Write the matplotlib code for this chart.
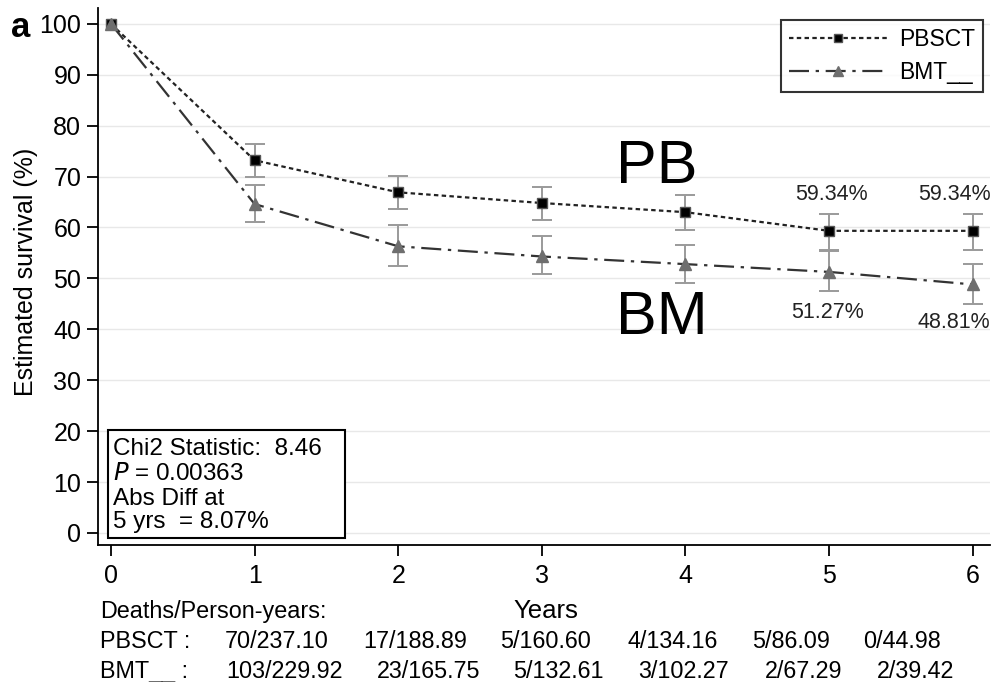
import matplotlib
matplotlib.use("Agg")
import matplotlib.pyplot as plt
from matplotlib.lines import Line2D
from matplotlib.patches import Rectangle

# --- data ---------------------------------------------------------------
years = [0, 1, 2, 3, 4, 5, 6]

pbsct_surv = [100.0, 73.2, 66.9, 64.8, 63.0, 59.34, 59.34]
pbsct_lo = [100.0, 70.0, 63.7, 61.5, 59.5, 55.6, 55.6]
pbsct_hi = [100.0, 76.4, 70.1, 67.9, 66.3, 62.6, 62.6]

bmt_surv = [100.0, 64.6, 56.3, 54.3, 52.8, 51.27, 48.81]
bmt_lo = [100.0, 61.0, 52.5, 50.8, 49.0, 47.6, 44.9]
bmt_hi = [100.0, 68.4, 60.4, 58.3, 56.6, 55.3, 52.8]

pbsct_deaths = ["70/237.10", "17/188.89", "5/160.60", "4/134.16", "5/86.09", "0/44.98"]
bmt_deaths = ["103/229.92", "23/165.75", "5/132.61", "3/102.27", "2/67.29", "2/39.42"]

y_ticks = list(range(0, 101, 10))

plt.rcParams["font.family"] = ["Liberation Sans", "DejaVu Sans"]

W, H = 996, 682
fig = plt.figure(figsize=(W / 100, H / 100), dpi=100)
ax = fig.add_axes([98 / W, 1 - 545 / H, (990 - 98) / W, (545 - 8) / H])


def fx(px):
    return px / W


def fy(py):
    return 1 - py / H


ax.set_xlim(-0.09, 6.12)
ax.set_ylim(-2.36, 103.1)

for v in y_ticks:
    ax.axhline(v, color="#e8e8e8", lw=1.0, zorder=0)

PB_LS = (0, (2.0, 1.5))
BM_LS = (0, (9, 3, 1.5, 3))

# confidence intervals
for surv, lo, hi in ((pbsct_surv, pbsct_lo, pbsct_hi), (bmt_surv, bmt_lo, bmt_hi)):
    ax.errorbar(years[1:], surv[1:],
                yerr=[[s - l for s, l in zip(surv[1:], lo[1:])],
                      [h - s for s, h in zip(surv[1:], hi[1:])]],
                fmt="none", ecolor="#9a9a9a", elinewidth=1.4, capsize=7, capthick=1.4, zorder=2)

# survival curves
ax.plot(years, pbsct_surv, color="#222222", lw=1.6, ls=PB_LS,
        marker="s", ms=7, mfc="black", mec="#555555", zorder=3)
ax.plot(years, bmt_surv, color="#333333", lw=1.6, ls=BM_LS,
        marker="^", ms=8, mfc="#6e6e6e", mec="#6e6e6e", zorder=3)

# value labels at 5 and 6 years
lab_kw = dict(fontsize=15.5, color="#222222", va="baseline", ha="center")
fig.text(fx(831), fy(200), f"{pbsct_surv[5]:.2f}%", **lab_kw)
fig.text(fx(954), fy(200), f"{pbsct_surv[6]:.2f}%", **lab_kw)
fig.text(fx(828), fy(318), f"{bmt_surv[5]:.2f}%", **lab_kw)
fig.text(fx(954), fy(328), f"{bmt_surv[6]:.2f}%", **lab_kw)

# group tags
fig.text(fx(616), fy(183), "PB", fontsize=44, ha="left", va="baseline", color="black")
fig.text(fx(616), fy(334), "BM", fontsize=44, ha="left", va="baseline", color="black")

# axes styling
ax.set_yticks(y_ticks)
ax.set_xticks(years)
ax.tick_params(axis="both", labelsize=18, length=8, width=1.3, color="black", direction="out")
ax.tick_params(axis="y", pad=4)
ax.tick_params(axis="x", pad=6)
for s in ("top", "right"):
    ax.spines[s].set_visible(False)
for s in ("left", "bottom"):
    ax.spines[s].set_linewidth(1.3)
fig.text(fx(26), fy(272), "Estimated survival (%)", fontsize=18, rotation=90,
         ha="center", va="center")

# legend
handles = [
    Line2D([], [], color="#222222", lw=1.6, ls=PB_LS, marker="s", ms=6,
           mfc="black", mec="#555555"),
    Line2D([], [], color="#333333", lw=1.6, ls=BM_LS, marker="^", ms=7,
           mfc="#6e6e6e", mec="#6e6e6e"),
]
leg = fig.legend(handles, ["PBSCT", "BMT__"], loc="upper right",
                 bbox_to_anchor=(fx(983), fy(20)), borderaxespad=0,
                 fontsize=16.5, frameon=True, fancybox=False, edgecolor="black",
                 handlelength=4.3, borderpad=0.35, labelspacing=0.45, handletextpad=0.5)
leg.get_frame().set_linewidth(1.5)

# statistics box
fig.patches.append(Rectangle((fx(108), fy(538)), fx(345) - fx(108), fy(430) - fy(538),
                             transform=fig.transFigure, fill=True, fc="white",
                             ec="black", lw=1.5, zorder=5))
stat_lines = ["Chi2 Statistic:  8.46", "$P$ = 0.00363", "Abs Diff at", "5 yrs  = 8.07%"]
for txt, base in zip(stat_lines, (455, 480, 505, 528)):
    fig.text(fx(113), fy(base), txt, fontsize=17.5, ha="left", va="baseline", zorder=6)

# panel letter
fig.text(fx(11), fy(37), "a", fontsize=25, fontweight="bold", ha="left", va="baseline")

# deaths / person-years table
row_kw = dict(fontsize=16.8, ha="left", va="baseline")
fig.text(fx(100), fy(618), "Deaths/Person-years:", **row_kw)
fig.text(fx(546), fy(618), "Years", fontsize=18.5, ha="center", va="baseline")
fig.text(fx(100), fy(648), "PBSCT :", **row_kw)
fig.text(fx(100), fy(678), "BMT__ :", **row_kw)
pb_cols = [225, 363, 500, 627, 752, 863]
bm_cols = [226, 377, 513, 638, 765, 877]
for txt, x in zip(pbsct_deaths, pb_cols):
    fig.text(fx(x), fy(648), txt, **row_kw)
for txt, x in zip(bmt_deaths, bm_cols):
    fig.text(fx(x), fy(678), txt, **row_kw)

fig.savefig("out.png", dpi=100)
